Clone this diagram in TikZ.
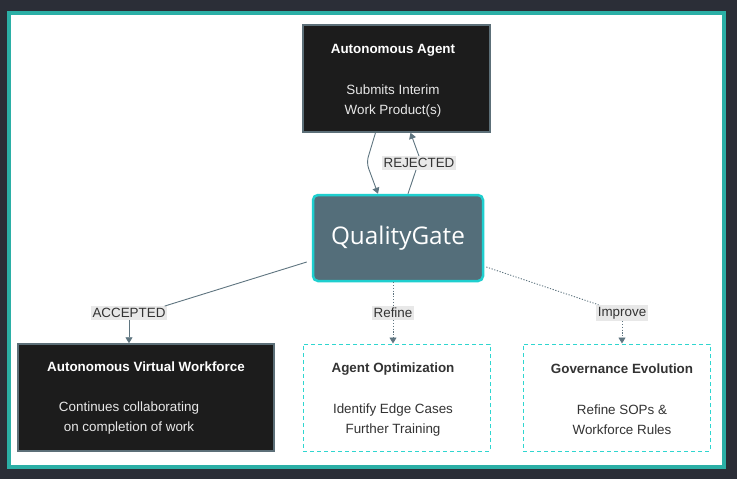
\documentclass[tikz,border=0pt]{standalone}
\usepackage{fontspec}
\setmainfont{Liberation Sans}
\newfontfamily\gatefont{Open Sans}
\usepackage{tikz}
\usetikzlibrary{calc,arrows.meta}

\definecolor{bgdark}{HTML}{2B2E37}
\definecolor{frameteal}{HTML}{2BAFA6}
\definecolor{boxdark}{HTML}{1C1C1C}
\definecolor{boxedge}{HTML}{5C6F78}
\definecolor{gatefill}{HTML}{546E7A}
\definecolor{gateedge}{HTML}{1FCFCF}
\definecolor{dashcyan}{HTML}{2FD6D0}
\definecolor{linkcol}{HTML}{5F7580}
\definecolor{lblfill}{HTML}{E8E8E8}
\definecolor{txtdark}{HTML}{333333}
\definecolor{txtlight}{HTML}{E8E8E8}

\begin{document}
\begin{tikzpicture}[x=1pt, y=-1pt, font=\fontsize{13.4}{20}\selectfont,
    >={Triangle[length=6pt,width=7pt]},
    darkbox/.style={draw=boxedge, line width=1.5pt, fill=boxdark,
        minimum width=#1, minimum height=107pt, inner sep=0pt},
    dashbox/.style={draw=dashcyan, line width=1pt, dash pattern=on 4pt off 3pt,
        fill=white, minimum width=#1, minimum height=107pt, inner sep=0pt},
    boxtxt/.style={inner sep=0pt, align=center},
    lbl/.style={fill=lblfill, text=txtdark, inner sep=2pt},
    link/.style={draw=linkcol, line width=0.9pt},
    dotlink/.style={draw=linkcol, line width=0.9pt, dash pattern=on 1.2pt off 1.6pt}]
	\useasboundingbox (0,0) rectangle (737,479);
	\fill[bgdark] (0,0) rectangle (737,479);
	\draw[frameteal, line width=4pt, fill=white] (9,13) rectangle (724,467);

	\node[darkbox=187pt] (agent) at (396.5,78.5) {};
	\node[boxtxt, text=txtlight] (agentTxt) at (393,80.5) {\textcolor{white}{\textbf{Autonomous Agent}}\\[21pt] Submits Interim\\ Work Product(s)};
	\node[draw=gateedge, line width=2.5pt, fill=gatefill, rounded corners=5pt, text=white,
	      minimum width=170pt, minimum height=86pt, inner sep=0pt,
	      font=\gatefont\fontsize{24.3}{28}\selectfont] (qg) at (398,238) {QualityGate};
	\node[darkbox=256pt] (avw) at (146,397.5) {};
	\node[boxtxt, text=white] (avwTitle) at (146,367) {\textbf{Autonomous Virtual Workforce}};
	\node[boxtxt, text=txtlight] (avwTxt) at (129,418) {Continues collaborating\\ on completion of work};
	\node[dashbox=187pt] (opt) at (396.5,397.5) {};
	\node[boxtxt, text=txtdark] (optTxt) at (393,399.5) {\textbf{Agent Optimization}\\[21pt] Identify Edge Cases\\ Further Training};
	\node[dashbox=187pt] (gov) at (616.5,397.5) {};
	\node[boxtxt, text=txtdark] (govTxt) at (622,399.5) {\textbf{Governance Evolution}\\[21pt] Refine SOPs \&\\ Workforce Rules};

	\node[lbl] (rej) at (419,163) {REJECTED};
	\node[lbl] (acc) at (129,313) {ACCEPTED};
	\node[lbl] (ref) at (393,313) {Refine};
	\node[lbl] (imp) at (622,313) {Improve};

	\draw[link, ->, rounded corners=6pt] ([xshift=-21pt]agent.south) -- ([xshift=-30pt,yshift=-30pt]agent.south) -- ([xshift=-20pt]qg.north);
	\draw[link] ([xshift=10pt]qg.north) -- ([xshift=-3pt]rej.south);
	\draw[link, ->] (rej.north) -- ([xshift=14pt]agent.south);

	\draw[link] ([xshift=-5pt,yshift=-24pt]qg.west) -- ([xshift=-3pt]acc.north east);
	\draw[link, ->] (acc.south) -- (acc.south |- avw.north);

	\draw[dotlink] ([xshift=-5pt]qg.south) -- (ref.north);
	\draw[dotlink, ->] (ref.south) -- (ref.south |- opt.north);

	\draw[dotlink] ([xshift=2pt,yshift=-29pt]qg.east) -- ([xshift=3pt]imp.north west);
	\draw[dotlink, ->] (imp.south) -- (imp.south |- gov.north);
\end{tikzpicture}
\end{document}
